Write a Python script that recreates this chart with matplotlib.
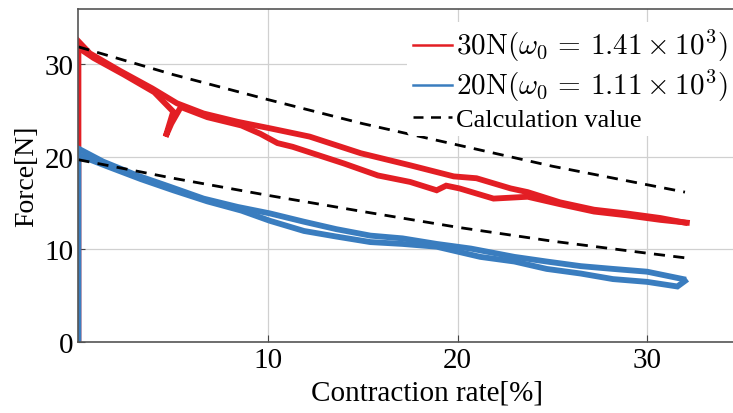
import matplotlib
matplotlib.use("Agg")
import matplotlib.pyplot as plt

# ---- data ----
red_a_x = [0, 0, 0.6, 2.2, 3.9, 5.2, 6.6, 8.4, 10.1, 12.2, 14.9, 17.5, 19.8, 21.0, 22.8, 23.7, 25.4, 27.2, 28.9, 30.7, 32.0]
red_a_y = [0, 32.5, 31.2, 29.3, 27.4, 25.8, 24.7, 23.8, 23.1, 22.2, 20.4, 19.1, 17.9, 17.7, 16.6, 16.2, 15.1, 14.3, 13.9, 13.4, 12.9]

red_b_x = [0, 0.8, 2.4, 4.0, 5.0, 4.6, 4.9, 5.4, 6.8, 8.6, 9.6, 10.5, 11.3, 14.0, 15.8, 17.5, 18.9, 19.4, 20.1, 21.9, 23.7, 25.4, 27.2, 28.9, 30.7, 32.1]
red_b_y = [31.8, 30.7, 28.9, 27.0, 24.9, 22.2, 23.6, 25.4, 24.3, 23.4, 22.5, 21.5, 21.1, 19.3, 18.0, 17.3, 16.4, 16.9, 16.6, 15.5, 15.7, 14.9, 14.1, 13.7, 13.2, 12.9]

blue_a_x = [0, 0, 1.3, 3.1, 4.8, 6.6, 8.4, 10.1, 11.9, 13.6, 15.4, 17.1, 18.9, 20.7, 23.0, 24.7, 26.5, 28.2, 30.0, 31.9]
blue_a_y = [0, 20.9, 19.5, 18.0, 16.8, 15.5, 14.6, 13.9, 13.0, 12.2, 11.5, 11.2, 10.6, 10.1, 9.2, 8.7, 8.2, 7.9, 7.6, 6.8]

blue_b_x = [0, 1.5, 3.3, 5.0, 6.8, 8.6, 10.1, 11.9, 13.6, 15.4, 17.1, 18.9, 21.2, 23.0, 24.7, 26.5, 28.2, 30.0, 31.6, 32.0]
blue_b_y = [20.2, 19.0, 17.6, 16.4, 15.2, 14.2, 13.1, 12.0, 11.4, 10.8, 10.6, 10.3, 9.2, 8.7, 7.9, 7.4, 6.8, 6.5, 6.0, 6.6]

calc_x = [0, 5, 10, 15, 20, 25, 30, 32]
calc30_y = [31.9, 28.9, 26.2, 23.6, 21.3, 19.0, 17.0, 16.2]
calc20_y = [19.7, 17.7, 15.85, 14.1, 12.4, 10.9, 9.6, 9.1]

x_ticks = [10, 20, 30]
y_ticks = [0, 10, 20, 30]

label_30 = r"$\mathrm{30N}(\omega_0\,=\,1.41\times10^3)$"
label_20 = r"$\mathrm{20N}(\omega_0\,=\,1.11\times10^3)$"
label_calc = "Calculation value"

# ---- style ----
plt.rcParams["font.family"] = ["Liberation Serif", "DejaVu Serif"]
plt.rcParams["mathtext.fontset"] = "cm"

RED = "#e31e24"
BLUE = "#3a7dbf"

fig = plt.figure(figsize=(7.33, 4.14), dpi=100)
# axes extends a little past the right edge of the picture (as in the reference crop)
ax = fig.add_axes([0.107, 0.1715, 0.9516, 0.8045])

lw = 4.2
ax.plot(red_a_x, red_a_y, color=RED, lw=lw, solid_joinstyle="miter", label=label_30)
ax.plot(red_b_x, red_b_y, color=RED, lw=lw, solid_joinstyle="miter")
ax.plot(blue_a_x, blue_a_y, color=BLUE, lw=lw, solid_joinstyle="miter", label=label_20)
ax.plot(blue_b_x, blue_b_y, color=BLUE, lw=lw, solid_joinstyle="miter")
ax.plot(calc_x, calc30_y, color="black", lw=2.0, ls=(0, (4, 3)), label=label_calc)
ax.plot(calc_x, calc20_y, color="black", lw=2.0, ls=(0, (4, 3)))

ax.set_xlim(0, 36.8)
ax.set_ylim(0, 36)
ax.set_xticks(x_ticks)
ax.set_yticks(y_ticks)
ax.grid(True, color="#d0d0d0", lw=0.9)
ax.set_axisbelow(True)
ax.tick_params(direction="in", length=5, labelsize=21, color="#444444")
for s in ["left", "bottom", "top", "right"]:
    ax.spines[s].set_color("#555555")
    ax.spines[s].set_linewidth(1.2)

ax.set_xlabel("Contraction rate[%]", fontsize=21, labelpad=5)
ax.set_ylabel("Force[N]", fontsize=20, labelpad=4)

handles, labels = ax.get_legend_handles_labels()
leg = ax.legend(handles, labels, loc="upper right", fontsize=19, frameon=True,
                framealpha=1, edgecolor="none", handlelength=1.5, handletextpad=0.15,
                borderaxespad=0.0, borderpad=0.2, labelspacing=0.15,
                bbox_to_anchor=(1.0, 0.945), bbox_transform=fig.transFigure)
for t in leg.get_texts()[:2]:
    t.set_fontsize(21)
for h in leg.get_lines():
    h.set_linewidth(1.8)

fig.savefig("out.png", dpi=100)
